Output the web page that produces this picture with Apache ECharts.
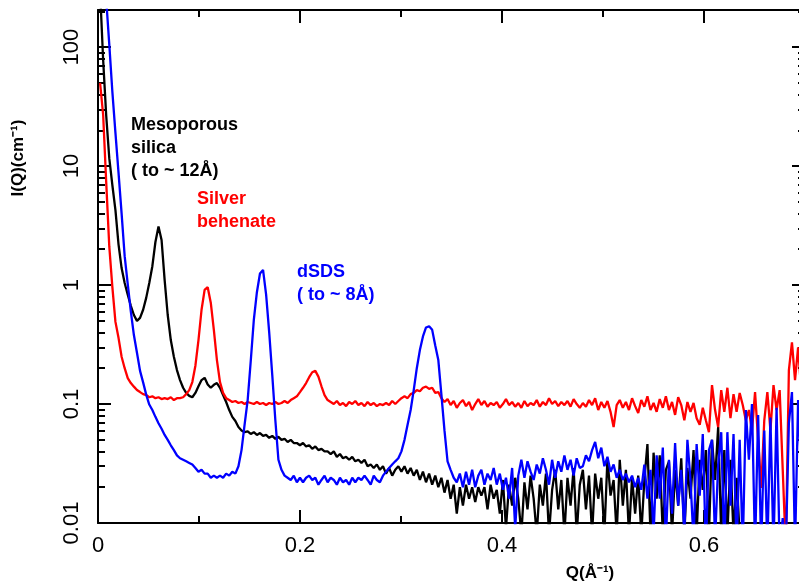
<!DOCTYPE html>
<html>
<head>
<meta charset="utf-8">
<script src="https://cdn.jsdelivr.net/npm/echarts@6/dist/echarts.min.js"></script>
<style>
html,body{margin:0;padding:0;background:#fff;}
#chart{width:799px;height:586px;}
</style>
</head>
<body>
<div id="chart"></div>
<script>
// ---- data (Q in 1/Angstrom, I in 1/cm), sampled on a uniform Q grid ----
const qFirst = 0.00205;
const qStep = 0.0030446;

const silicaI = [300,78,26.5,11.6,6.9,4.26,2.2,1.39,1.04,0.83,0.67,0.56,0.50,0.53,0.62,0.78,1.04,1.44,2.3,3.1,
2.39,1.10,0.56,0.345,0.25,0.193,0.159,0.137,0.124,0.117,0.114,0.124,0.141,0.159,0.166,0.146,0.137,0.145,0.15,0.137,
0.119,0.104,0.089,0.078,0.072,0.064,0.06,0.058,0.059,0.056,
0.058,0.055,0.057,0.054,0.055,0.052,0.054,0.051,0.053,0.050,0.051,0.048,0.050,0.047,0.047,0.045,0.047,0.044,0.045,0.042,
0.044,0.041,0.042,0.040,0.040,0.038,0.040,0.036,0.038,0.035,0.036,0.034,0.036,0.033,0.034,0.032,0.034,0.030,0.031,0.029,
0.031,0.028,0.030,0.026,0.029,0.025,0.028,0.030,
0.027,0.030,0.026,0.029,0.025,0.028,0.023,0.027,0.022,0.026,0.021,0.025,0.020,0.024,0.018,0.023,0.016,0.021,0.012,0.020,
0.014,0.021,0.016,0.020,0.015,0.020,0.017,0.020,0.013,0.021,0.016,0.019,0.012,0.023,0.009,0.021,0.014,0.024,0.016,0.008,
0.022,0.013,0.025,0.016,0.008,0.021,0.014,0.026,0.008,0.019,0.028,0.013,0.023,0.008,0.024,0.014,0.029,0.008,0.021,
0.028,0.013,0.025,0.008,0.026,0.016,0.024,0.008,0.035,0.017,0.023,0.008,0.034,0.014,0.028,0.008,0.024,0.012,0.025,0.008,
0.023,0.046,0.008,0.039,0.016,0.037,0.008,0.028,0.033,0.008,0.028,0.014,0.035,0.008,0.029,0.016,0.041,0.008,0.034,0.019,
0.041,0.008,0.050,0.023,0.064,0.008,0.041,0.008,0.034,0.008,0.024,0.008];

const behenateI = [50,27,7.3,2.1,0.96,0.49,0.36,0.25,0.20,0.165,0.15,0.14,0.131,0.126,0.121,0.119,0.114,0.116,0.112,0.114,
0.110,0.112,0.110,0.114,0.108,0.112,0.112,0.114,0.121,0.131,0.153,0.21,0.345,0.62,0.91,0.96,0.71,0.42,0.234,0.153,
0.124,0.112,0.108,0.104,0.106,0.102,0.104,0.100,0.104,0.102,0.100,0.104,0.100,0.102,0.098,0.102,0.100,0.104,0.100,0.102,
0.106,0.102,0.108,0.112,0.116,0.126,0.137,0.15,0.168,0.185,0.19,0.17,0.141,0.119,0.108,0.104,
0.100,0.106,0.098,0.102,0.096,0.104,0.100,0.106,0.098,0.102,0.096,0.104,0.098,0.102,0.096,0.100,0.098,0.102,0.098,0.106,
0.100,0.106,
0.112,0.116,0.112,0.121,0.124,0.131,0.128,0.137,0.140,0.134,0.137,0.124,0.126,0.112,0.104,0.110,0.098,0.106,0.093,0.102,
0.108,0.096,0.104,0.089,0.100,0.110,0.098,0.106,0.095,0.102,0.098,0.104,0.093,0.100,0.110,0.098,0.104,0.095,0.102,0.093,
0.106,0.096,0.102,0.098,0.108,0.095,0.104,0.098,0.112,0.100,0.106,0.096,0.104,0.098,0.106,0.095,0.110,0.100,0.093,
0.102,0.095,0.108,0.098,0.112,0.089,0.104,0.093,0.106,0.086,0.064,0.098,0.108,0.093,0.104,0.089,0.112,0.096,0.084,0.108,
0.095,0.116,0.089,0.102,0.086,0.110,0.093,0.116,0.089,0.104,0.081,0.114,0.098,0.073,0.104,0.086,0.102,0.076,0.067,0.093,
0.073,0.058,0.144,0.089,0.064,0.131,0.086,0.137,0.076,0.121,0.086,0.124,0.098,0.073,0.089,0.06,0.126,0.05,0.0197,0.073,
0.126,0.06,0.144,0.089,0.131,0.028,0.006,0.193,0.33,0.159,0.30,0.131];

const dsdsI = [1500,600,250,105,42,19,8.8,4.0,1.75,1.02,0.60,0.38,0.27,0.19,0.152,0.12,0.099,0.089,0.078,0.069,
0.062,0.055,0.050,0.045,0.041,0.037,0.035,0.034,0.033,0.032,0.031,0.029,0.027,0.028,0.026,0.026,0.024,0.025,0.024,0.025,
0.024,0.026,0.025,0.027,0.026,0.030,0.041,0.067,0.108,0.23,0.51,0.87,1.25,1.34,0.83,0.40,0.175,0.073,0.034,0.028,
0.025,0.024,
0.023,0.025,0.022,0.024,0.022,0.024,0.025,0.023,0.024,0.021,0.023,0.025,0.022,0.024,0.023,0.021,0.024,0.022,0.023,0.021,
0.024,0.022,0.024,0.023,0.025,0.023,0.021,0.025,0.023,0.022,
0.025,0.027,0.029,0.031,0.033,0.035,0.040,0.050,0.067,0.089,0.131,0.20,0.284,0.37,0.44,0.45,0.42,0.31,0.234,0.12,
0.06,0.033,0.028,0.024,0.022,
0.026,0.020,0.027,0.021,0.028,0.020,0.025,0.028,0.021,0.026,0.023,0.029,0.021,0.026,0.019,0.024,0.016,0.029,0.009,0.025,
0.034,0.024,0.033,0.027,0.023,0.031,0.026,0.035,0.028,0.021,0.034,0.024,0.033,0.027,0.037,0.028,0.034,0.025,0.035,0.029,
0.030,0.037,0.033,0.041,0.048,0.035,0.043,0.030,0.036,0.027,0.031,0.024,0.028,0.023,0.026,0.022,0.025,0.020,0.024,0.019,
0.031,0.016,0.028,0.008,0.037,0.016,0.043,0.007,0.034,0.012,0.047,0.014,0.028,0.008,0.050,0.023,0.007,0.046,0.017,0.056,
0.006,0.041,0.050,0.007,0.031,0.058,0.006,0.058,0.014,0.056,0.006,0.050,0.006,0.089,0.034,0.10,0.006,0.081,0.006,0.06,
0.006,0.077,0.006,0.093,0.006,0.011,0.006,0.069,0.126,0.006,0.108,0.028];

const xMajorTicks = [0, 0.2, 0.4, 0.6];
const xMinorTicks = [0.1, 0.3, 0.5];
const yMajorTicks = [0.01, 0.1, 1, 10, 100];
const yMinorTicks = [0.02,0.03,0.04,0.05,0.06,0.07,0.08,0.09,
  0.2,0.3,0.4,0.5,0.6,0.7,0.8,0.9, 2,3,4,5,6,7,8,9, 20,30,40,50,60,70,80,90, 200];

const xMin = 0, xMax = 0.7, yMin = 0.01, yMax = 205;

// ---- chart ----
const FONT = '"Liberation Sans", Arial, Helvetica, sans-serif';
const toPairs = arr => arr.map((v, k) => [qFirst + k * qStep, v]);

function xAx(position, ticks, len, showLine, showLabel) {
  return {
    type: 'value', min: xMin, max: xMax, position: position,
    axisLine: {show: showLine, onZero: false, lineStyle: {color: '#000', width: 2}},
    axisTick: {show: true, inside: true, length: len, customValues: ticks, lineStyle: {color: '#000', width: 2}},
    axisLabel: showLabel ? {show: true, customValues: ticks, fontSize: 22, color: '#000', fontFamily: FONT, margin: 12,
      formatter: v => String(+(+v).toPrecision(3))} : {show: false},
    minorTick: {show: false}, splitLine: {show: false}
  };
}
function yAx(position, ticks, len, showLine, showLabel) {
  return {
    type: 'log', logBase: 10, min: yMin, max: yMax, position: position,
    axisLine: {show: showLine, onZero: false, lineStyle: {color: '#000', width: 2}},
    axisTick: {show: true, inside: true, length: len, customValues: ticks, lineStyle: {color: '#000', width: 2}},
    axisLabel: showLabel ? {show: true, customValues: ticks, rotate: 90, fontSize: 22, color: '#000', fontFamily: FONT, margin: 15,
      formatter: v => String(+(+v).toPrecision(3))} : {show: false},
    minorTick: {show: false}, splitLine: {show: false}
  };
}

const chart = echarts.init(document.getElementById('chart'), null, {renderer: 'canvas'});
const lineSeries = (name, arr, color) => ({
  name: name, type: 'line', xAxisIndex: 0, yAxisIndex: 0,
  data: toPairs(arr), showSymbol: false, symbol: 'none', clip: true,
  lineStyle: {color: color, width: 2.3}, itemStyle: {color: color}, animation: false
});

chart.setOption({
  animation: false,
  backgroundColor: '#fff',
  grid: {left: 98, top: 10, width: 707, height: 513, containLabel: false, outerBoundsMode: 'none'},
  xAxis: [
    xAx('bottom', xMajorTicks, 13, true, true),
    xAx('bottom', xMinorTicks, 7, false, false),
    xAx('top', xMajorTicks, 13, true, false),
    xAx('top', xMinorTicks, 7, false, false)
  ],
  yAxis: [
    yAx('left', yMajorTicks, 13, true, true),
    yAx('left', yMinorTicks, 7, false, false),
    yAx('right', yMajorTicks, 13, true, false),
    yAx('right', yMinorTicks, 7, false, false)
  ],
  series: [
    lineSeries('Mesoporous silica', silicaI, '#000000'),
    lineSeries('Silver behenate', behenateI, '#ff0000'),
    lineSeries('dSDS', dsdsI, '#0000ff')
  ],
  graphic: [
    {type: 'text', x: 131, y: 114, silent: true, style: {text: 'Mesoporous\nsilica\n( to ~ 12Å)', fontFamily: FONT, fontWeight: 'bold', fontSize: 18, lineHeight: 23, fill: '#000', align: 'left', verticalAlign: 'top'}},
    {type: 'text', x: 197, y: 188, silent: true, style: {text: 'Silver\nbehenate', fontFamily: FONT, fontWeight: 'bold', fontSize: 18, lineHeight: 23, fill: '#ff0000', align: 'left', verticalAlign: 'top'}},
    {type: 'text', x: 297, y: 261, silent: true, style: {text: 'dSDS\n( to ~ 8Å)', fontFamily: FONT, fontWeight: 'bold', fontSize: 18, lineHeight: 23, fill: '#0000ff', align: 'left', verticalAlign: 'top'}},
    {type: 'text', x: 18, y: 158, rotation: Math.PI / 2, silent: true, style: {text: 'I(Q)(cm⁻¹)', fontFamily: FONT, fontWeight: 'bold', fontSize: 17, fill: '#000', align: 'center', verticalAlign: 'middle'}},
    {type: 'text', x: 590, y: 573, silent: true, style: {text: 'Q(Å⁻¹)', fontFamily: FONT, fontWeight: 'bold', fontSize: 17, fill: '#000', align: 'center', verticalAlign: 'middle'}}
  ]
});
</script>
</body>
</html>
